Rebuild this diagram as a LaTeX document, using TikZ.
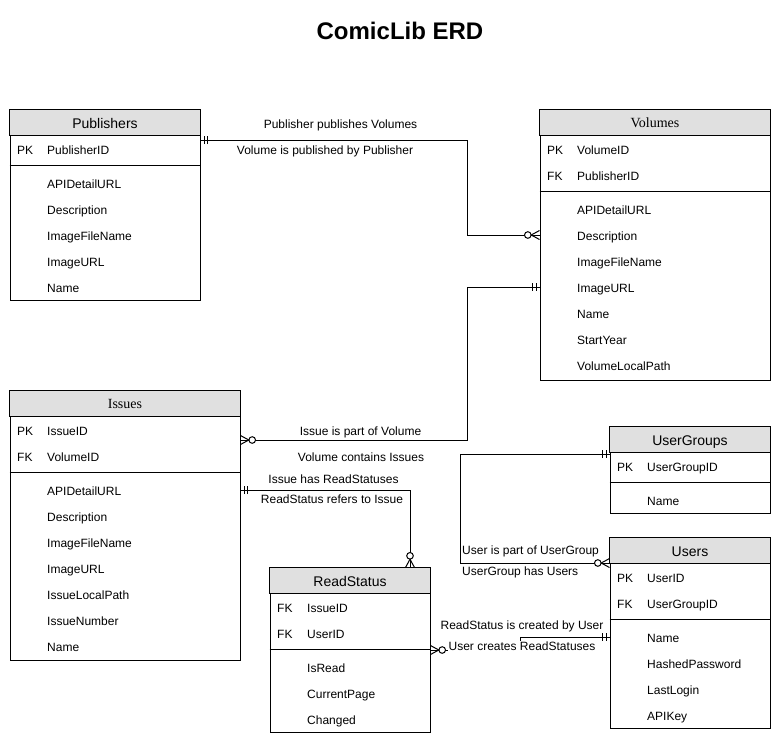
\documentclass[tikz,border=0pt]{standalone}
\usepackage{fontspec}
\setmainfont{Liberation Sans}
\newfontfamily\hdrserif{Liberation Serif}
\definecolor{hdrgray}{HTML}{E0E0E0}
\tikzset{
  tbl/.style={draw, line width=1pt, fill=white, inner sep=0pt},
  hdrbox/.style={draw, line width=1pt, fill=hdrgray},
  ttl/.style={inner sep=0pt, font=\fontsize{14}{16}\selectfont, text height=10pt, text depth=0pt},
  sttl/.style={inner sep=0pt, font=\hdrserif\fontsize{14}{16}\selectfont, text height=9.5pt, text depth=0pt},
  fld/.style={anchor=west, inner sep=0pt, font=\fontsize{12}{14}\selectfont, text height=8.6pt, text depth=0pt},
  lbl/.style={inner sep=1pt, fill=white, font=\fontsize{12}{14}\selectfont, text height=8.6pt, text depth=2pt},
  llbl/.style={lbl, anchor=west, inner sep=0pt},
  conn/.style={line width=1pt},
  pics/mandone/.style={code={\draw[line width=1pt] (-3.5,-4)--(-3.5,4) (-7,-4)--(-7,4);}},
  pics/zeromany/.style={code={\draw[line width=1pt] (0,-4.5)--(-8.3,0)--(0,4.5);
      \draw[line width=1pt, fill=white] (-11.7,0) circle[radius=3.3pt];}}
}
\begin{document}
\begin{tikzpicture}[x=1pt, y=-1pt]
\useasboundingbox (0,0) rectangle (781,745);
\node[font=\bfseries\fontsize{24}{28}\selectfont, inner sep=0pt] (title) at (400,31) {ComicLib ERD};

% ---------- Publishers
\node[tbl, minimum width=190pt, minimum height=190pt] (pub) at (105,205) {};
\draw[hdrbox] (pub.north west) rectangle ([yshift=-26pt]pub.north east);
\draw[line width=1pt] ([yshift=-56pt]pub.north west) -- ([yshift=-56pt]pub.north east);
\node[ttl] (pubT) at (105,123) {Publishers};
\node[fld] (pubk1) at (17,150) {PK};
\node[fld] (pubn1) at (47,150) {PublisherID};
\foreach \t [count=\i] in {APIDetailURL,Description,ImageFileName,ImageURL,Name}
  \node[fld] (pubf\i) at (47,158+26*\i) {\t};

% ---------- Volumes
\node[tbl, minimum width=230pt, minimum height=270pt] (vol) at (655,245) {};
\draw[hdrbox] (vol.north west) rectangle ([yshift=-26pt]vol.north east);
\draw[line width=1pt] ([yshift=-82pt]vol.north west) -- ([yshift=-82pt]vol.north east);
\node[sttl] (volT) at (655,123) {Volumes};
\node[fld] (volk1) at (547,150) {PK};
\node[fld] (voln1) at (577,150) {VolumeID};
\node[fld] (volk2) at (547,176) {FK};
\node[fld] (voln2) at (577,176) {PublisherID};
\foreach \t [count=\i] in {APIDetailURL,Description,ImageFileName,ImageURL,Name,StartYear,VolumeLocalPath}
  \node[fld] (volf\i) at (577,184+26*\i) {\t};

% ---------- Issues
\node[tbl, minimum width=230pt, minimum height=269pt] (iss) at (125,525.5) {};
\draw[hdrbox] (iss.north west) rectangle ([yshift=-26pt]iss.north east);
\draw[line width=1pt] ([yshift=-82pt]iss.north west) -- ([yshift=-82pt]iss.north east);
\node[sttl] (issT) at (125,404) {Issues};
\node[fld] (issk1) at (17,431) {PK};
\node[fld] (issn1) at (47,431) {IssueID};
\node[fld] (issk2) at (17,457) {FK};
\node[fld] (issn2) at (47,457) {VolumeID};
\foreach \t [count=\i] in {APIDetailURL,Description,ImageFileName,ImageURL,IssueLocalPath,IssueNumber,Name}
  \node[fld] (issf\i) at (47,465+26*\i) {\t};

% ---------- UserGroups
\node[tbl, minimum width=160pt, minimum height=86pt] (ug) at (690,470) {};
\draw[hdrbox] (ug.north west) rectangle ([yshift=-26pt]ug.north east);
\draw[line width=1pt] ([yshift=-56pt]ug.north west) -- ([yshift=-56pt]ug.north east);
\node[ttl] (ugT) at (690,440) {UserGroups};
\node[fld] (ugk1) at (617,467) {PK};
\node[fld] (ugn1) at (647,467) {UserGroupID};
\node[fld] (ugf1) at (647,501) {Name};

% ---------- Users
\node[tbl, minimum width=160pt, minimum height=190pt] (usr) at (690,633) {};
\draw[hdrbox] (usr.north west) rectangle ([yshift=-26pt]usr.north east);
\draw[line width=1pt] ([yshift=-82pt]usr.north west) -- ([yshift=-82pt]usr.north east);
\node[ttl] (usrT) at (690,551) {Users};
\node[fld] (usrk1) at (617,578) {PK};
\node[fld] (usrn1) at (647,578) {UserID};
\node[fld] (usrk2) at (617,604) {FK};
\node[fld] (usrn2) at (647,604) {UserGroupID};
\foreach \t [count=\i] in {Name,HashedPassword,LastLogin,APIKey}
  \node[fld] (usrf\i) at (647,612+26*\i) {\t};

% ---------- ReadStatus
\node[tbl, minimum width=160pt, minimum height=164pt] (rs) at (350,650) {};
\draw[hdrbox] (rs.north west) rectangle ([yshift=-26pt]rs.north east);
\draw[line width=1pt] ([yshift=-82pt]rs.north west) -- ([yshift=-82pt]rs.north east);
\node[ttl] (rsT) at (350,581) {ReadStatus};
\node[fld] (rsk1) at (277,608) {FK};
\node[fld] (rsn1) at (307,608) {IssueID};
\node[fld] (rsk2) at (277,634) {FK};
\node[fld] (rsn2) at (307,634) {UserID};
\foreach \t [count=\i] in {IsRead,CurrentPage,Changed}
  \node[fld] (rsf\i) at (307,642+26*\i) {\t};

% ---------- Connectors
% Publishers -- Volumes
\draw[conn] (pub.east |- 0,140) -- (467,140) -- (467,235) -- (vol.west |- 0,235);
\pic[rotate=180] at (pub.east |- 0,140) {mandone};
\pic at (vol.west |- 0,235) {zeromany};
\node[lbl] (l1a) at (340.5,125) {Publisher publishes Volumes};
\node[lbl] (l1b) at (325,151) {Volume is published by Publisher};

% Volumes -- Issues
\draw[conn] (vol.west |- 0,287) -- (467,287) -- (467,440) -- (iss.east |- 0,440);
\pic at (vol.west |- 0,287) {mandone};
\pic[rotate=180] at (iss.east |- 0,440) {zeromany};
\node[lbl] (l2a) at (360.5,432) {Issue is part of Volume};
\node[lbl] (l2b) at (361,458) {Volume contains Issues};

% Issues -- ReadStatus
\draw[conn] (iss.east |- 0,490) -- (410,490) -- (rs.north -| 410,0);
\pic[rotate=180] at (iss.east |- 0,490) {mandone};
\pic[rotate=-90] at (rs.north -| 410,0) {zeromany};
\node[lbl] (l3a) at (333.5,480) {Issue has ReadStatuses};
\node[lbl] (l3b) at (332,500) {ReadStatus refers to Issue};

% UserGroups -- Users
\draw[conn] (ug.west |- 0,454) -- (460,454) -- (460,563) -- (usr.west |- 0,563);
\pic at (ug.west |- 0,454) {mandone};
\pic at (usr.west |- 0,563) {zeromany};
\node[llbl] (l4a) at (462,551) {User is part of UserGroup};
\node[llbl] (l4b) at (462,572) {UserGroup has Users};

% Users -- ReadStatus
\draw[conn] (usr.west |- 0,637) -- (520,637) -- (520,650) -- (rs.east |- 0,650);
\pic at (usr.west |- 0,637) {mandone};
\pic[rotate=180] at (rs.east |- 0,650) {zeromany};
\node[lbl] (l5a) at (522,626) {ReadStatus is created by User};
\node[lbl] (l5b) at (522,647) {User creates ReadStatuses};
\end{tikzpicture}
\end{document}
